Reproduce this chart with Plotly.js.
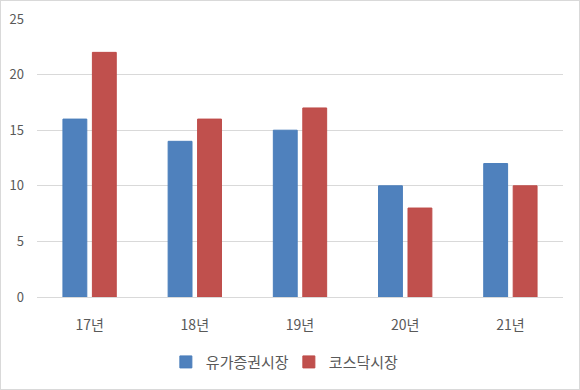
<!DOCTYPE html>
<html><head><meta charset="utf-8">
<script src="https://cdn.plot.ly/plotly-3.0.1.min.js"></script>
<style>
html,body{margin:0;padding:0;background:#fff;}
#wrap{width:578px;height:388px;border:1px solid #d9d9d9;}
#chart{width:578px;height:388px;}
</style></head>
<body><div id="wrap"><div id="chart"></div></div>
<script>
var categories = ['17년','18년','19년','20년','21년'];
var seriesNames = ['유가증권시장','코스닥시장'];
var kospi = [16, 14, 15, 10, 12];
var kosdaq = [22, 16, 17, 8, 10];
var yTicks = [0, 5, 10, 15, 20, 25];

var font = '"Noto Sans CJK KR", "Malgun Gothic", sans-serif';
var traces = [
  {type:'bar', name:seriesNames[0], x:categories, y:kospi,
   marker:{color:'#4F81BD', line:{color:'#4A7EBB', width:1}}, hoverinfo:'y'},
  {type:'bar', name:seriesNames[1], x:categories, y:kosdaq,
   marker:{color:'#C0504D', line:{color:'#BE4B48', width:1}}, hoverinfo:'y'}
];
var layout = {
  width:578, height:388,
  margin:{l:36, r:16, t:18, b:91, pad:0},
  paper_bgcolor:'#fff', plot_bgcolor:'#fff',
  barmode:'group', bargap:0.44, bargroupgap:0.19,
  showlegend:true,
  legend:{orientation:'h', x:0.245, xanchor:'left', y:-0.23, yanchor:'middle',
          font:{family:font, size:15, color:'#595959'}, itemwidth:30,
          entrywidth:78, entrywidthmode:'pixels'},
  xaxis:{type:'category', showgrid:false, showline:true, linecolor:'#d9d9d9', linewidth:1,
         ticks:'', tickfont:{family:font, size:14, color:'#595959'}, ticklabelstandoff:15,
         fixedrange:true},
  yaxis:{range:[0,25], tickvals:yTicks, ticktext:yTicks.map(String),
         showgrid:true, gridcolor:'#d9d9d9', gridwidth:1, zeroline:false, showline:false,
         ticks:'', tickfont:{family:font, size:13, color:'#595959'}, ticklabelstandoff:12,
         fixedrange:true}
};
Plotly.newPlot('chart', traces, layout, {displayModeBar:false, staticPlot:true});
</script></body></html>
